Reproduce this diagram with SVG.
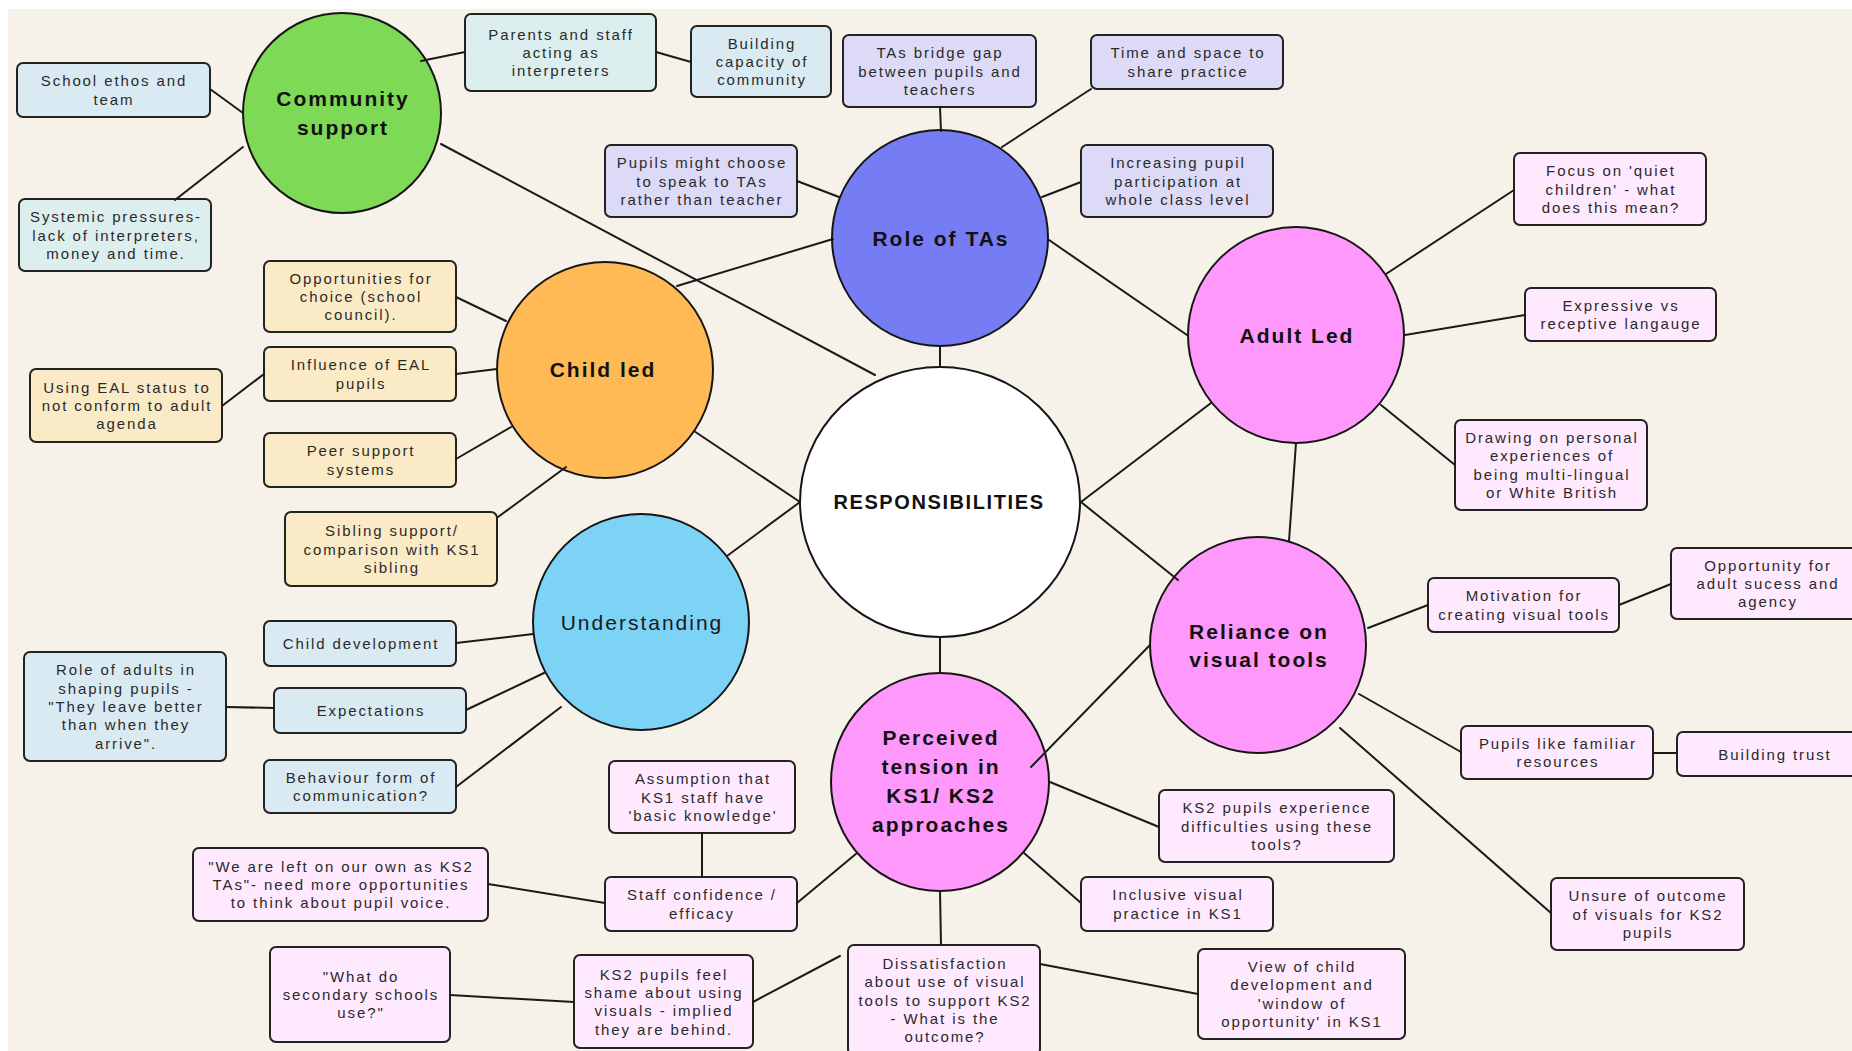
<svg xmlns="http://www.w3.org/2000/svg" width="1852" height="1051" viewBox="0 0 1852 1051">
  <style>
    .bg { fill: #F6F2EA; }
    .hub { stroke: #151515; stroke-width: 2; }
    .box { stroke: #222; stroke-width: 2; }
    .mint { fill: #DCEFEE; }
    .blue { fill: #DAEAF3; }
    .lav { fill: #DCDAF6; }
    .pink { fill: #FEE9FE; }
    .sand { fill: #FBEAC6; }
    .t { font-family: "Liberation Sans", Arial, sans-serif; font-size: 15px; letter-spacing: 1.9px; fill: #2a2a2a; text-anchor: middle; }
    .h { font-family: "Liberation Sans", Arial, sans-serif; font-size: 21px; font-weight: bold; letter-spacing: 2px; fill: #111; text-anchor: middle; }
    .hr { font-family: "Liberation Sans", Arial, sans-serif; font-size: 21px; letter-spacing: 2px; fill: #1a1a1a; text-anchor: middle; }
    .conn line { stroke: #1a1a1a; stroke-width: 2; stroke-linecap: round; }
  </style>

  <rect x="0" y="0" width="1852" height="1051" fill="#FFFFFF"/>
  <rect class="bg" x="8" y="9" width="1844" height="1042"/>

  <!-- hub circles -->
  <g id="hub-community">
    <ellipse class="hub" cx="342" cy="113" rx="99" ry="100" fill="#7ED957"/>
    <text class="h"><tspan x="343" y="106">Community</tspan><tspan x="343" y="135">support</tspan></text>
  </g>
  <g id="hub-tas">
    <ellipse class="hub" cx="940" cy="238" rx="108" ry="108" fill="#757CF4"/>
    <text class="h" x="941" y="246">Role of TAs</text>
  </g>
  <g id="hub-adult">
    <ellipse class="hub" cx="1296" cy="335" rx="108" ry="108" fill="#FE98FB"/>
    <text class="h" x="1297" y="343">Adult Led</text>
  </g>
  <g id="hub-child">
    <ellipse class="hub" cx="605" cy="370" rx="108" ry="108" fill="#FFBA55"/>
    <text class="h" x="603" y="377">Child led</text>
  </g>
  <g id="hub-responsibilities">
    <ellipse class="hub" cx="940" cy="502" rx="140" ry="135" fill="#FFFFFF"/>
    <text class="h" x="939" y="509" style="font-size:20px;letter-spacing:1.6px">RESPONSIBILITIES</text>
  </g>
  <g id="hub-understanding">
    <ellipse class="hub" cx="641" cy="622" rx="108" ry="108" fill="#7DD3F5"/>
    <text class="hr" x="642" y="630">Understanding</text>
  </g>
  <g id="hub-visual">
    <ellipse class="hub" cx="1258" cy="645" rx="108" ry="108" fill="#FE98FB"/>
    <text class="h"><tspan x="1259" y="639">Reliance on</tspan><tspan x="1259" y="667">visual tools</tspan></text>
  </g>
  <g id="hub-tension">
    <ellipse class="hub" cx="940" cy="782" rx="109" ry="109" fill="#FE98FB"/>
    <text class="h"><tspan x="941" y="745">Perceived</tspan><tspan x="941" y="774">tension in</tspan><tspan x="941" y="803">KS1/ KS2</tspan><tspan x="941" y="832">approaches</tspan></text>
  </g>

  <!-- community support boxes -->
  <g id="n-parents">
    <rect class="box mint" x="465" y="14" width="191" height="77" rx="6"/>
    <text class="t"><tspan x="561" y="39.7">Parents and staff</tspan><tspan x="561" y="58">acting as</tspan><tspan x="561" y="76.3">interpreters</tspan></text>
  </g>
  <g id="n-building-capacity">
    <rect class="box blue" x="691" y="26" width="140" height="71" rx="6"/>
    <text class="t"><tspan x="762" y="48.7">Building</tspan><tspan x="762" y="67">capacity of</tspan><tspan x="762" y="85.3">community</tspan></text>
  </g>
  <g id="n-ethos">
    <rect class="box blue" x="17" y="63" width="193" height="54" rx="6"/>
    <text class="t"><tspan x="114" y="86.4">School ethos and</tspan><tspan x="114" y="104.7">team</tspan></text>
  </g>
  <g id="n-systemic">
    <rect class="box mint" x="19" y="199" width="192" height="72" rx="6"/>
    <text class="t"><tspan x="116" y="222.2">Systemic pressures-</tspan><tspan x="116" y="240.5">lack of interpreters,</tspan><tspan x="116" y="258.8">money and time.</tspan></text>
  </g>

  <!-- role of TAs boxes -->
  <g id="n-bridge">
    <rect class="box lav" x="843" y="35" width="193" height="72" rx="6"/>
    <text class="t"><tspan x="940" y="58.2">TAs bridge gap</tspan><tspan x="940" y="76.5">between pupils and</tspan><tspan x="940" y="94.8">teachers</tspan></text>
  </g>
  <g id="n-time-space">
    <rect class="box lav" x="1091" y="35" width="192" height="54" rx="6"/>
    <text class="t"><tspan x="1188" y="58.4">Time and space to</tspan><tspan x="1188" y="76.7">share practice</tspan></text>
  </g>
  <g id="n-pupils-choose">
    <rect class="box lav" x="605" y="145" width="192" height="72" rx="6"/>
    <text class="t"><tspan x="702" y="168.2">Pupils might choose</tspan><tspan x="702" y="186.5">to speak to TAs</tspan><tspan x="702" y="204.8">rather than teacher</tspan></text>
  </g>
  <g id="n-participation">
    <rect class="box lav" x="1081" y="145" width="192" height="72" rx="6"/>
    <text class="t"><tspan x="1178" y="168.2">Increasing pupil</tspan><tspan x="1178" y="186.5">participation at</tspan><tspan x="1178" y="204.8">whole class level</tspan></text>
  </g>

  <!-- adult led boxes -->
  <g id="n-quiet">
    <rect class="box pink" x="1514" y="153" width="192" height="72" rx="6"/>
    <text class="t"><tspan x="1611" y="176.2">Focus on 'quiet</tspan><tspan x="1611" y="194.5">children' - what</tspan><tspan x="1611" y="212.8">does this mean?</tspan></text>
  </g>
  <g id="n-expressive">
    <rect class="box pink" x="1525" y="288" width="191" height="53" rx="6"/>
    <text class="t"><tspan x="1621" y="310.9">Expressive vs</tspan><tspan x="1621" y="329.2">receptive langauge</tspan></text>
  </g>
  <g id="n-personal">
    <rect class="box pink" x="1455" y="420" width="192" height="90" rx="6"/>
    <text class="t"><tspan x="1552" y="443">Drawing on personal</tspan><tspan x="1552" y="461.4">experiences of</tspan><tspan x="1552" y="479.7">being multi-lingual</tspan><tspan x="1552" y="498">or White British</tspan></text>
  </g>

  <!-- child led boxes -->
  <g id="n-choice">
    <rect class="box sand" x="264" y="261" width="192" height="71" rx="6"/>
    <text class="t"><tspan x="361" y="283.7">Opportunities for</tspan><tspan x="361" y="302">choice (school</tspan><tspan x="361" y="320.3">council).</tspan></text>
  </g>
  <g id="n-eal-influence">
    <rect class="box sand" x="264" y="347" width="192" height="54" rx="6"/>
    <text class="t"><tspan x="361" y="370.4">Influence of EAL</tspan><tspan x="361" y="388.7">pupils</tspan></text>
  </g>
  <g id="n-eal-status">
    <rect class="box sand" x="30" y="369" width="192" height="73" rx="6"/>
    <text class="t"><tspan x="127" y="392.7">Using EAL status to</tspan><tspan x="127" y="411">not conform to adult</tspan><tspan x="127" y="429.3">agenda</tspan></text>
  </g>
  <g id="n-peer">
    <rect class="box sand" x="264" y="433" width="192" height="54" rx="6"/>
    <text class="t"><tspan x="361" y="456.4">Peer support</tspan><tspan x="361" y="474.7">systems</tspan></text>
  </g>
  <g id="n-sibling">
    <rect class="box sand" x="285" y="512" width="212" height="74" rx="6"/>
    <text class="t"><tspan x="392" y="536.2">Sibling support/</tspan><tspan x="392" y="554.5">comparison with KS1</tspan><tspan x="392" y="572.8">sibling</tspan></text>
  </g>

  <!-- understanding boxes -->
  <g id="n-child-development">
    <rect class="box blue" x="264" y="621" width="192" height="45" rx="6"/>
    <text class="t" x="361" y="649">Child development</text>
  </g>
  <g id="n-role-adults">
    <rect class="box blue" x="24" y="652" width="202" height="109" rx="6"/>
    <text class="t"><tspan x="126" y="675.4">Role of adults in</tspan><tspan x="126" y="693.7">shaping pupils -</tspan><tspan x="126" y="712">"They leave better</tspan><tspan x="126" y="730.3">than when they</tspan><tspan x="126" y="748.6">arrive".</tspan></text>
  </g>
  <g id="n-expectations">
    <rect class="box blue" x="274" y="688" width="192" height="45" rx="6"/>
    <text class="t" x="371" y="716">Expectations</text>
  </g>
  <g id="n-behaviour">
    <rect class="box blue" x="264" y="760" width="192" height="53" rx="6"/>
    <text class="t"><tspan x="361" y="782.9">Behaviour form of</tspan><tspan x="361" y="801.2">communication?</tspan></text>
  </g>

  <!-- KS1/KS2 tension boxes -->
  <g id="n-left-alone">
    <rect class="box pink" x="193" y="848" width="295" height="73" rx="6"/>
    <text class="t"><tspan x="341" y="871.7">"We are left on our own as KS2</tspan><tspan x="341" y="890">TAs"- need more opportunities</tspan><tspan x="341" y="908.3">to think about pupil voice.</tspan></text>
  </g>
  <g id="n-secondary">
    <rect class="box pink" x="270" y="947" width="180" height="95" rx="6"/>
    <text class="t"><tspan x="361" y="981.7">"What do</tspan><tspan x="361" y="1000">secondary schools</tspan><tspan x="361" y="1018.3">use?"</tspan></text>
  </g>
  <g id="n-assumption">
    <rect class="box pink" x="609" y="761" width="186" height="72" rx="6"/>
    <text class="t"><tspan x="703" y="784.2">Assumption that</tspan><tspan x="703" y="802.5">KS1 staff have</tspan><tspan x="703" y="820.8">'basic knowledge'</tspan></text>
  </g>
  <g id="n-confidence">
    <rect class="box pink" x="605" y="877" width="192" height="54" rx="6"/>
    <text class="t"><tspan x="702" y="900.4">Staff confidence /</tspan><tspan x="702" y="918.7">efficacy</tspan></text>
  </g>
  <g id="n-shame">
    <rect class="box pink" x="574" y="955" width="179" height="93" rx="6"/>
    <text class="t"><tspan x="664" y="979.6">KS2 pupils feel</tspan><tspan x="664" y="997.9">shame about using</tspan><tspan x="664" y="1016.2">visuals - implied</tspan><tspan x="664" y="1034.5">they are behind.</tspan></text>
  </g>
  <g id="n-dissatisfaction">
    <rect class="box pink" x="848" y="945" width="192" height="110" rx="6"/>
    <text class="t"><tspan x="945" y="968.9">Dissatisfaction</tspan><tspan x="945" y="987.2">about use of visual</tspan><tspan x="945" y="1005.5">tools to support KS2</tspan><tspan x="945" y="1023.8">- What is the</tspan><tspan x="945" y="1042.1">outcome?</tspan></text>
  </g>
  <g id="n-inclusive">
    <rect class="box pink" x="1081" y="877" width="192" height="54" rx="6"/>
    <text class="t"><tspan x="1178" y="900.4">Inclusive visual</tspan><tspan x="1178" y="918.7">practice in KS1</tspan></text>
  </g>
  <g id="n-difficulties">
    <rect class="box pink" x="1159" y="790" width="235" height="72" rx="6"/>
    <text class="t"><tspan x="1277" y="813.2">KS2 pupils experience</tspan><tspan x="1277" y="831.5">difficulties using these</tspan><tspan x="1277" y="849.8">tools?</tspan></text>
  </g>
  <g id="n-window">
    <rect class="box pink" x="1198" y="949" width="207" height="90" rx="6"/>
    <text class="t"><tspan x="1302" y="972">View of child</tspan><tspan x="1302" y="990.4">development and</tspan><tspan x="1302" y="1008.7">'window of</tspan><tspan x="1302" y="1027">opportunity' in KS1</tspan></text>
  </g>

  <!-- visual tools boxes -->
  <g id="n-motivation">
    <rect class="box pink" x="1428" y="578" width="191" height="54" rx="6"/>
    <text class="t"><tspan x="1524" y="601.4">Motivation for</tspan><tspan x="1524" y="619.7">creating visual tools</tspan></text>
  </g>
  <g id="n-agency">
    <rect class="box pink" x="1671" y="548" width="192" height="71" rx="6"/>
    <text class="t"><tspan x="1768" y="570.7">Opportunity for</tspan><tspan x="1768" y="589">adult sucess and</tspan><tspan x="1768" y="607.3">agency</tspan></text>
  </g>
  <g id="n-familiar">
    <rect class="box pink" x="1461" y="726" width="192" height="53" rx="6"/>
    <text class="t"><tspan x="1558" y="748.9">Pupils like familiar</tspan><tspan x="1558" y="767.2">resources</tspan></text>
  </g>
  <g id="n-trust">
    <rect class="box pink" x="1677" y="732" width="194" height="44" rx="6"/>
    <text class="t" x="1775" y="759.5">Building trust</text>
  </g>
  <g id="n-unsure">
    <rect class="box pink" x="1551" y="878" width="193" height="72" rx="6"/>
    <text class="t"><tspan x="1648" y="901.2">Unsure of outcome</tspan><tspan x="1648" y="919.5">of visuals for KS2</tspan><tspan x="1648" y="937.8">pupils</tspan></text>
  </g>

  <!-- connectors -->
  <g id="connectors" class="conn">
    <line x1="421" y1="61" x2="465" y2="52"/>
    <line x1="656" y1="52" x2="691" y2="62"/>
    <line x1="210" y1="89" x2="243" y2="113"/>
    <line x1="175" y1="200" x2="243" y2="147"/>
    <line x1="441" y1="144" x2="875" y2="375"/>
    <line x1="940" y1="107" x2="941" y2="131"/>
    <line x1="1091" y1="89" x2="1002" y2="147"/>
    <line x1="797" y1="181" x2="839" y2="197"/>
    <line x1="1081" y1="182" x2="1042" y2="197"/>
    <line x1="833" y1="239" x2="677" y2="286"/>
    <line x1="1049" y1="240" x2="1187" y2="335"/>
    <line x1="940" y1="346" x2="940" y2="367"/>
    <line x1="1514" y1="190" x2="1386" y2="274"/>
    <line x1="1525" y1="315" x2="1405" y2="335"/>
    <line x1="1455" y1="465" x2="1381" y2="405"/>
    <line x1="1211" y1="403" x2="1081" y2="502"/>
    <line x1="1296" y1="443" x2="1289" y2="541"/>
    <line x1="1081" y1="502" x2="1178" y2="580"/>
    <line x1="940" y1="637" x2="940" y2="673"/>
    <line x1="1150" y1="645" x2="1031" y2="767"/>
    <line x1="800" y1="502" x2="694" y2="431"/>
    <line x1="800" y1="502" x2="727" y2="556"/>
    <line x1="456" y1="297" x2="506" y2="321"/>
    <line x1="456" y1="374" x2="497" y2="369"/>
    <line x1="222" y1="406" x2="264" y2="374"/>
    <line x1="456" y1="459" x2="511" y2="427"/>
    <line x1="498" y1="517" x2="566" y2="467"/>
    <line x1="456" y1="643" x2="533" y2="634"/>
    <line x1="226" y1="707" x2="274" y2="708"/>
    <line x1="466" y1="710" x2="544" y2="673"/>
    <line x1="456" y1="787" x2="561" y2="707"/>
    <line x1="488" y1="884" x2="605" y2="903"/>
    <line x1="450" y1="995" x2="574" y2="1002"/>
    <line x1="702" y1="833" x2="702" y2="877"/>
    <line x1="797" y1="903" x2="857" y2="853"/>
    <line x1="753" y1="1002" x2="840" y2="956"/>
    <line x1="940" y1="891" x2="941" y2="945"/>
    <line x1="1081" y1="903" x2="1024" y2="853"/>
    <line x1="1159" y1="827" x2="1050" y2="782"/>
    <line x1="1040" y1="964" x2="1198" y2="994"/>
    <line x1="1428" y1="605" x2="1368" y2="628"/>
    <line x1="1619" y1="605" x2="1671" y2="584"/>
    <line x1="1461" y1="752" x2="1359" y2="694"/>
    <line x1="1653" y1="753" x2="1677" y2="753"/>
    <line x1="1551" y1="913" x2="1340" y2="728"/>
  </g>
</svg>
